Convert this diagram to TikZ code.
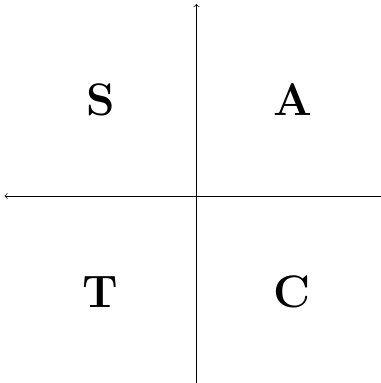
\documentclass[tikz,border=0pt]{standalone}
\begin{document}
\begin{tikzpicture}[quad/.style={font=\fontsize{27}{32}\selectfont\bfseries}]
\useasboundingbox (-4.094,-3.896) rectangle (3.84,4.083);
% axes
\coordinate (west) at (-4,0);
\coordinate (east) at (4,0);
\coordinate (south) at (0,-4);
\coordinate (north) at (0,4);
\draw[<->] (west)--(east);
\draw[<->] (south)--(north);

% quadrants
\node[quad] (s) at (-2,2) {S};
\node[quad] (a) at (2,2) {A};
\node[quad] (t) at (-2,-2) {T};
\node[quad] (c) at (2,-2) {C};
\end{tikzpicture}
\end{document}
